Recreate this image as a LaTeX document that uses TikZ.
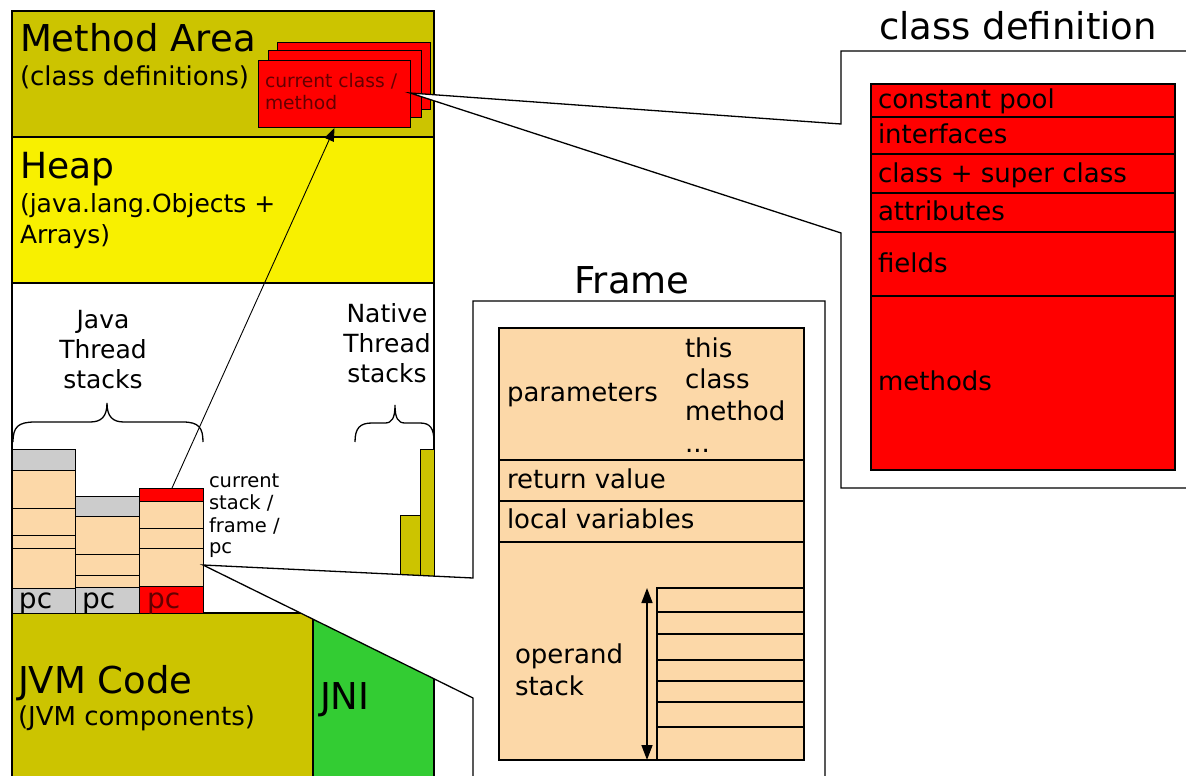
\documentclass[tikz,border=0pt]{standalone}
\usepackage{fontspec}
\setmainfont{DejaVu Sans}
\usetikzlibrary{arrows.meta}
\definecolor{maolive}{RGB}{204,196,0}
\definecolor{heapyellow}{RGB}{248,240,0}
\definecolor{jnigreen}{RGB}{51,204,51}
\definecolor{peach}{RGB}{252,216,168}
\definecolor{stackgray}{RGB}{204,204,204}
\definecolor{darkredtxt}{RGB}{100,0,0}
\newcommand\fsHuge{\fontsize{37}{37}\selectfont}
\newcommand\fsHeap{\fontsize{36}{36}\selectfont}
\newcommand\fsTitle{\fontsize{37}{37}\selectfont}
\newcommand\fsMid{\fontsize{26}{26}\selectfont}
\newcommand\fsSub{\fontsize{25}{25}\selectfont}
\newcommand\fsPc{\fontsize{28}{28}\selectfont}
\newcommand\fsSmall{\fontsize{19.5}{19.5}\selectfont}
\newcommand\fsTiny{\fontsize{18.7}{18.7}\selectfont}
\begin{document}
\begin{tikzpicture}[x=1pt,y=-1pt,line join=miter,
  box/.style={draw=black,line width=1.3pt},
  thin/.style={draw=black,line width=1pt},
  lbl/.style={anchor=base west,inner sep=0pt,outer sep=0pt},
  clbl/.style={anchor=base,inner sep=0pt,outer sep=0pt}]
\clip (0,0) rectangle (1186,776);
\fill[white] (0,0) rectangle (1186,776);
% ---------- main memory column ----------
\fill[maolive] (12,11) rectangle (434,137);
\fill[heapyellow] (12,137) rectangle (434,283);
\fill[maolive] (12,613) rectangle (313,790);
\fill[jnigreen] (313,613) rectangle (434,790);
\draw[box] (12,790) -- (12,11) -- (434,11) -- (434,790);
\draw[box] (12,137) -- (434,137);
\draw[box] (12,283) -- (434,283);
\draw[box] (12,613) -- (434,613);
\draw[box] (313,613) -- (313,790);
% ---------- thread stacks ----------
% stack 1
\draw[thin,fill=stackgray] (12,449) rectangle (75,470);
\draw[thin,fill=peach] (12,470) rectangle (75,588);
\draw[thin] (12,508) -- (75,508) (12,535) -- (75,535) (12,548) -- (75,548);
\draw[thin,fill=stackgray] (12,588) rectangle (75,613);
% stack 2
\draw[thin,fill=stackgray] (75,496) rectangle (139,516);
\draw[thin,fill=peach] (75,516) rectangle (139,587);
\draw[thin] (75,554) -- (139,554) (75,575) -- (139,575);
\draw[thin,fill=stackgray] (75,587) rectangle (139,613);
% stack 3 (current)
\draw[thin,fill=red] (139,488) rectangle (203,501);
\draw[thin,fill=peach] (139,501) rectangle (203,586);
\draw[thin] (139,528) -- (203,528) (139,548) -- (203,548);
\draw[thin,fill=red] (139,586) rectangle (203,613);
\coordinate (s3top) at (172,488);
\coordinate (s3edge) at (203,565);
% native stacks
\draw[thin,fill=maolive] (400,515) rectangle (420,577);
\draw[thin,fill=maolive] (420,449) rectangle (434,577);
% braces
\draw[line width=1.3pt] (13,442) .. controls (13,427) and (18,422) .. (35,422) -- (90,422)
  .. controls (101,422) and (107,417) .. (107,403)
  .. controls (107,417) and (113,422) .. (124,422) -- (183,422)
  .. controls (199,422) and (203,428) .. (203,442);
\draw[line width=1.3pt] (355,442) .. controls (355,428) and (360,423) .. (372,423) -- (385,423)
  .. controls (392,423) and (395,418) .. (395,405)
  .. controls (395,418) and (398,423) .. (405,423) -- (420,423)
  .. controls (430,423) and (434,428) .. (434,442);
% ---------- class / method boxes ----------
\draw[thin,fill=red] (277,43) rectangle (430,109);
\draw[thin,fill=red] (268,51) rectangle (421,117);
\node[draw=black,line width=1pt,fill=red,anchor=north west,inner sep=0pt,
      minimum width=152pt,minimum height=67pt] (cur) at (258,60) {};
\coordinate (cwedge) at (410,93);
% arrow from current stack to current class
\draw[line width=0.9pt,-{Triangle[length=13pt,width=10pt]}] (s3top) -- (cur.south);
% ---------- class definition callout ----------
\fill[white] (841,488) -- (841,233) -- (cwedge) -- (841,124) -- (841,51) -- (1200,51) -- (1200,488) -- cycle;
\draw[box] (1200,488) -- (841,488) -- (841,233) -- (cwedge) -- (841,124) -- (841,51) -- (1200,51);
\draw[box,fill=red] (871,84) rectangle (1175,470);
\foreach \yy in {117,154,193,232,296} \draw[box] (871,\yy) -- (1175,\yy);
% ---------- frame callout ----------
\fill[white] (473,790) -- (473,698) -- (s3edge) -- (473,578) -- (473,301) -- (825,301) -- (825,790) -- cycle;
\draw[box] (473,790) -- (473,698) -- (s3edge) -- (473,578) -- (473,301) -- (825,301) -- (825,790);
\draw[box,fill=peach] (499,328) rectangle (804,760);
\foreach \yy in {460,501,542} \draw[box] (499,\yy) -- (804,\yy);
\draw[box] (657,588) rectangle (804,760);
\foreach \yy in {612,634,660,681,702,727} \draw[box] (657,\yy) -- (804,\yy);
\coordinate (opTop) at (647,588);
\coordinate (opBot) at (647,760);
\draw[line width=1.5pt,{Triangle[length=15pt,width=11pt]}-{Triangle[length=15pt,width=11pt]}] (opTop) -- (opBot);
% ---------- texts ----------
\node[lbl,font=\fsHuge] (tMA) at (20,52) {Method Area};
\node[lbl,font=\fsMid] (tMA2) at (20,85) {(class definitions)};
\node[lbl,font=\fsTiny,text=darkredtxt] (tCC1) at (265,88) {current class /};
\node[lbl,font=\fsTiny,text=darkredtxt] (tCC2) at (265,110) {method};
\node[lbl,font=\fsHeap] (tHeap) at (20,178) {Heap};
\node[lbl,font=\fsSub] (tHeap2) at (20,212) {(java.lang.Objects +};
\node[lbl,font=\fsSub] (tHeap3) at (20,243) {Arrays)};
\node[clbl,font=\fsSub] (tJ1) at (103,328) {Java};
\node[clbl,font=\fsSub] (tJ2) at (103,358) {Thread};
\node[clbl,font=\fsSub] (tJ3) at (103,388) {stacks};
\node[clbl,font=\fsSub] (tN1) at (387,322) {Native};
\node[clbl,font=\fsSub] (tN2) at (387,352) {Thread};
\node[clbl,font=\fsSub] (tN3) at (387,382) {stacks};
\node[lbl,font=\fsSmall] (tCS1) at (209,487) {current};
\node[lbl,font=\fsSmall] (tCS2) at (209,509) {stack /};
\node[lbl,font=\fsSmall] (tCS3) at (209,532) {frame /};
\node[lbl,font=\fsSmall] (tCS4) at (209,553) {pc};
\node[lbl,font=\fsPc] (pc1) at (19,608) {pc};
\node[lbl,font=\fsPc] (pc2) at (82,608) {pc};
\node[lbl,font=\fsPc,text=darkredtxt] (pc3) at (147,608) {pc};
\node[lbl,font=\fsHuge] (tJVM) at (18,693) {JVM Code};
\node[lbl,font=\fsMid] (tJVM2) at (18,725) {(JVM components)};
\node[lbl,font=\fsTitle] (tJNI) at (320,709) {JNI};
\node[clbl,font=\fsHuge] (tFrame) at (632,293) {Frame};
\node[lbl,font=\fsMid] (fPar) at (507,401) {parameters};
\node[lbl,font=\fsMid] (fThis) at (685,357) {this};
\node[lbl,font=\fsMid] (fClass) at (685,388) {class};
\node[lbl,font=\fsMid] (fMeth) at (685,420) {method};
\node[lbl,font=\fsMid] (fDots) at (685,452) {...};
\node[lbl,font=\fsMid] (fRet) at (507,488) {return value};
\node[lbl,font=\fsMid] (fLoc) at (507,528) {local variables};
\node[lbl,font=\fsMid] (fOp1) at (515,663) {operand};
\node[lbl,font=\fsMid] (fOp2) at (515,695) {stack};
\node[clbl,font=\fsTitle] (tCD) at (1018,40) {class definition};
\node[lbl,font=\fsMid] (cPool) at (878,108) {constant pool};
\node[lbl,font=\fsMid] (cInt) at (878,143) {interfaces};
\node[lbl,font=\fsMid] (cSup) at (878,182) {class + super class};
\node[lbl,font=\fsMid] (cAttr) at (878,220) {attributes};
\node[lbl,font=\fsMid] (cFld) at (878,272) {fields};
\node[lbl,font=\fsMid] (cMeth) at (878,390) {methods};
\end{tikzpicture}
\end{document}
